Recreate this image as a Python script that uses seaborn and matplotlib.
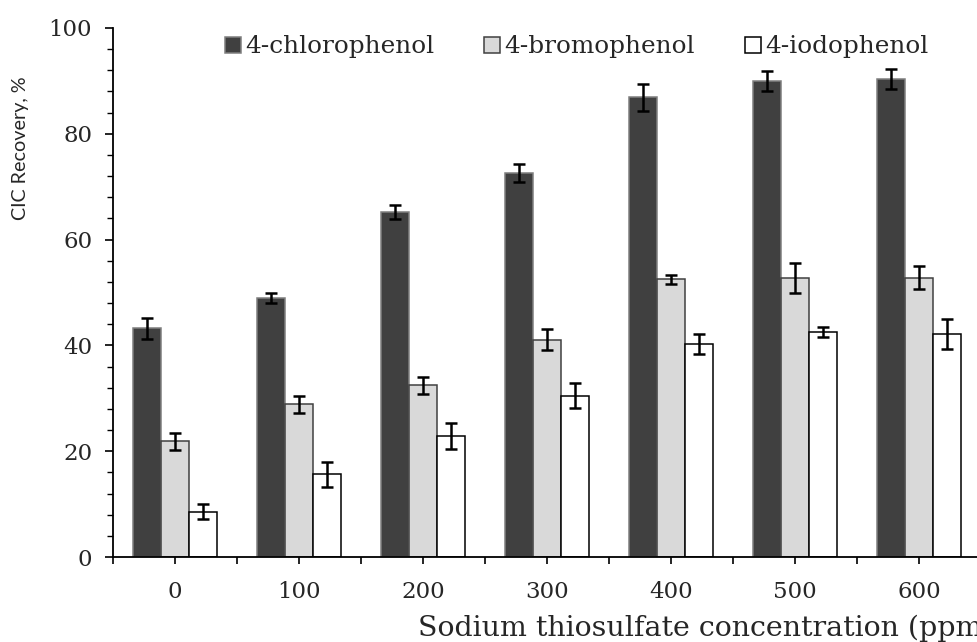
import pandas as pd
import matplotlib.pyplot as plt
import seaborn as sns
from matplotlib.ticker import MultipleLocator, FixedLocator

# Data
concentrations = ['0', '100', '200', '300', '400', '500', '600']
compounds = ['4-chlorophenol', '4-bromophenol', '4-iodophenol']
chloro = [43.2, 49.0, 65.2, 72.6, 86.9, 90.0, 90.3]
chloro_err = [1.9, 1.0, 1.4, 1.7, 2.6, 1.9, 1.9]
bromo = [21.9, 28.9, 32.5, 41.1, 52.5, 52.8, 52.8]
bromo_err = [1.6, 1.6, 1.6, 2.0, 0.9, 2.8, 2.2]
iodo = [8.6, 15.6, 22.9, 30.5, 40.3, 42.5, 42.1]
iodo_err = [1.5, 2.4, 2.5, 2.4, 1.9, 1.0, 2.8]

fill_colors = ['#404040', '#d9d9d9', '#ffffff']
edge_colors = ['#7f7f7f', '#404040', '#000000']

values = [chloro, bromo, iodo]
errors = [chloro_err, bromo_err, iodo_err]

df = pd.DataFrame({
    'conc': concentrations * 3,
    'compound': [c for c in compounds for _ in concentrations],
    'recovery': chloro + bromo + iodo,
})

sns.set_style('ticks')
plt.rcParams['font.family'] = ['DejaVu Serif']

fig = plt.figure(figsize=(9.77, 6.42), dpi=100)
ax = fig.add_axes([113 / 977, 1 - 557 / 642, 868 / 977, 529 / 642])

sns.barplot(data=df, x='conc', y='recovery', hue='compound', hue_order=compounds,
            palette=fill_colors, saturation=1, width=0.68, gap=0, errorbar=None,
            legend=False, ax=ax)

# edges and error bars per series
for cont, ec, err in zip(ax.containers, edge_colors, errors):
    xs, ys = [], []
    for bar in cont:
        bar.set_edgecolor(ec)
        bar.set_linewidth(1.1)
        xs.append(bar.get_x() + bar.get_width() / 2)
        ys.append(bar.get_height())
    ax.errorbar(xs, ys, yerr=err, fmt='none', ecolor='black', elinewidth=1.8,
                capsize=4.5, capthick=1.8, zorder=5)

ax.set_xlim(-0.5, 6.5)
ax.set_ylim(0, 100)
ax.yaxis.set_major_locator(MultipleLocator(20))
ax.yaxis.set_minor_locator(MultipleLocator(4))
ax.xaxis.set_minor_locator(FixedLocator([i - 0.5 for i in range(8)]))
ax.tick_params(axis='y', which='major', length=6, width=1.2, pad=9, labelsize=16.5, color='black')
ax.tick_params(axis='y', which='minor', length=4, width=1.0, color='black')
ax.tick_params(axis='x', which='both', length=5, width=1.2, pad=12, labelsize=16.5, color='black')

sns.despine(ax=ax)
for side in ['left', 'bottom']:
    ax.spines[side].set_linewidth(1.3)
    ax.spines[side].set_color('black')

ax.set_xlabel('')
ax.set_ylabel('')
# the reference title runs past the right edge of the image
fig.text(418 / 977, 1 - 628 / 642, 'Sodium thiosulfate concentration (ppm)',
         ha='left', va='center', fontsize=20.5)
fig.text(21 / 977, 1 - 148 / 642, 'CIC Recovery, %', rotation=90, ha='center',
         va='center', fontsize=14.2, family=['Lato', 'DejaVu Sans'])

leg = fig.legend(ax.containers, compounds, loc='center left',
                 bbox_to_anchor=(225 / 977, 1 - 47 / 642), ncol=3, frameon=False,
                 fontsize=17.8, handlelength=0.65, handleheight=0.65,
                 handletextpad=0.18, columnspacing=2.0, borderpad=0, borderaxespad=0)

fig.savefig('out.png', dpi=100)
